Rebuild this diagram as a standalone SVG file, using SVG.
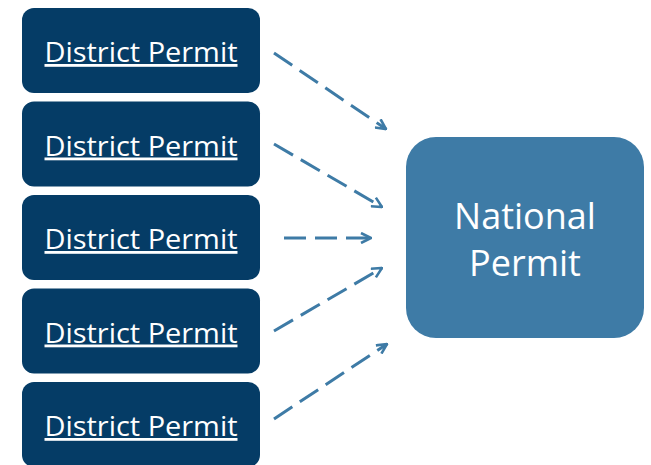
<svg xmlns="http://www.w3.org/2000/svg" width="651" height="465" viewBox="0 0 651 465">
<defs>
<style>
.d rect{fill:#053c66;}
.d text{fill:#ffffff;font-family:"Open Sans","Liberation Sans",sans-serif;font-size:28px;text-anchor:middle;text-decoration:underline;}
.n text{fill:#ffffff;font-family:"Open Sans","Liberation Sans",sans-serif;font-size:36px;text-anchor:middle;}
.c line{stroke:#3e7ba6;stroke-width:3;stroke-dasharray:22 9;fill:none;marker-end:url(#ah);}
</style>
<marker id="ah" viewBox="0 0 12 12" refX="11" refY="6" markerWidth="12" markerHeight="12" markerUnits="userSpaceOnUse" orient="auto">
<polyline points="1,1 11,6 1,11" fill="none" stroke="#3e7ba6" stroke-width="2.6"/>
</marker>
</defs>
<rect width="651" height="465" fill="#ffffff"/>
<g id="d1" class="d"><rect x="22" y="8" width="238" height="85" rx="12"/><text x="141" y="62" textLength="193" lengthAdjust="spacingAndGlyphs">District Permit</text></g>
<g id="d2" class="d"><rect x="22" y="101.5" width="238" height="85" rx="12"/><text x="141" y="155.5" textLength="193" lengthAdjust="spacingAndGlyphs">District Permit</text></g>
<g id="d3" class="d"><rect x="22" y="195" width="238" height="85" rx="12"/><text x="141" y="249" textLength="193" lengthAdjust="spacingAndGlyphs">District Permit</text></g>
<g id="d4" class="d"><rect x="22" y="288.5" width="238" height="85" rx="12"/><text x="141" y="342.5" textLength="193" lengthAdjust="spacingAndGlyphs">District Permit</text></g>
<g id="d5" class="d"><rect x="22" y="382" width="238" height="85" rx="12"/><text x="141" y="436" textLength="193" lengthAdjust="spacingAndGlyphs">District Permit</text></g>
<g id="national" class="n"><rect x="406" y="137" width="238" height="201" rx="30" fill="#3e7ba6"/><text x="525" y="229">National</text><text x="525" y="276">Permit</text></g>
<g id="connectors" class="c">
<line x1="274" y1="53" x2="386" y2="129"/>
<line x1="274" y1="144" x2="382" y2="207"/>
<line x1="284" y1="238" x2="371" y2="238"/>
<line x1="274" y1="331" x2="382" y2="268"/>
<line x1="274" y1="419" x2="387" y2="344"/>
</g>
</svg>
